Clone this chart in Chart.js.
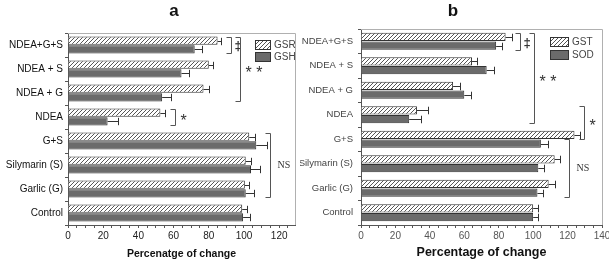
<!DOCTYPE html>
<html><head><meta charset="utf-8">
<script src="https://cdn.jsdelivr.net/npm/chart.js@4/dist/chart.umd.min.js"></script>
<style>
html,body{margin:0;padding:0;background:#fff;overflow:hidden}
#wrap{position:relative;width:609px;height:265px}
canvas{position:absolute;top:0}
</style></head><body>
<div id="wrap">
<canvas id="ca" width="300" height="265" style="left:0"></canvas>
<canvas id="cb" width="309" height="265" style="left:300px"></canvas>
</div>
<script>
// ---- data ----
const categories = ['NDEA+G+S','NDEA + S','NDEA + G','NDEA','G+S','Silymarin (S)','Garlic (G)','Control'];
const gsr    = [85, 80, 77, 52.5, 103, 101, 100.5, 99];
const gsrErr = [2, 2.5, 3, 2.5, 3, 3, 2.5, 3];
const gsh    = [72, 64.5, 53.5, 22.5, 107, 104, 101, 99.5];
const gshErr = [4, 4.5, 5, 6, 6, 5, 4.5, 4];
const gst    = [84, 64.5, 53.5, 32.5, 124, 112.5, 109, 100];
const gstErr = [4, 3, 4, 6.5, 3, 3, 3.5, 3];
const sod    = [78.5, 73, 60, 28, 104.5, 103, 102.5, 100];
const sodErr = [3.5, 4, 4, 7, 4, 3.5, 3.5, 3];
const xTicksA = [0,20,40,60,80,100,120];
const xTicksB = [0,20,40,60,80,100,120,140];
// significance brackets: [category, dataset] ends, value on x axis, mark
const bracketsA = [
  {from:[0,0], to:[0,1], at:92.5, mark:'‡'},
  {from:[0,0], to:[2,1], at:98, mark:'* *'},
  {from:[3,0], to:[3,1], at:61, mark:'*'},
  {from:[4,0], to:[6,1], at:115, mark:'NS'}
];
const bracketsB = [
  {from:[0,0], to:[0,1], at:92.5, mark:'‡'},
  {from:[0,0], to:[3,1], at:100.5, mark:'* *'},
  {from:[3,0], to:[4,0], at:129.5, mark:'*'},
  {from:[4,1], to:[6,1], at:121, mark:'NS'}
];

function hatch(){
  const c=document.createElement('canvas'); c.width=c.height=4;
  const g=c.getContext('2d');
  g.fillStyle='#fff'; g.fillRect(0,0,4,4);
  g.strokeStyle='#555'; g.lineWidth=1;
  g.beginPath();
  g.moveTo(0,4); g.lineTo(4,0);
  g.moveTo(-1,1); g.lineTo(1,-1);
  g.moveTo(3,5); g.lineTo(5,3);
  g.stroke();
  return g.createPattern(c,'repeat');
}

function makeChart(id, cfg){
  const ctx=document.getElementById(id).getContext('2d');
  const pat=hatch();
  const decor={
    id:'decor',
    afterDatasetsDraw(chart){
      const c=chart.ctx, xs=chart.scales.x, a=chart.chartArea;
      c.save();
      // error bars
      c.strokeStyle='#333'; c.lineWidth=1;
      chart.data.datasets.forEach((ds,di)=>{
        const meta=chart.getDatasetMeta(di);
        meta.data.forEach((bar,i)=>{
          const p=bar.getProps(['x','y','height'],true);
          const xe=Math.round(xs.getPixelForValue(ds.data[i]+ds.err[i]))+0.5;
          const y=Math.round(p.y)+0.5, h=p.height*0.45;
          c.beginPath();
          c.moveTo(p.x,y); c.lineTo(xe,y);
          c.moveTo(xe,y-h); c.lineTo(xe,y+h);
          c.stroke();
        });
      });
      // frame top/right
      c.strokeStyle='#b0b0b0';
      c.beginPath();
      c.moveTo(a.left,a.top+0.5); c.lineTo(a.right+0.5,a.top+0.5); c.lineTo(a.right+0.5,a.bottom);
      c.stroke();
      // brackets
      c.strokeStyle='#555'; c.fillStyle='#333';
      cfg.brackets.forEach(b=>{
        const b1=chart.getDatasetMeta(b.from[1]).data[b.from[0]].getProps(['y','height'],true);
        const b2=chart.getDatasetMeta(b.to[1]).data[b.to[0]].getProps(['y','height'],true);
        const x=Math.round(xs.getPixelForValue(b.at))+0.5;
        const y1=Math.round(b1.y-b1.height/2)+0.5, y2=Math.round(b2.y+b2.height/2)+0.5;
        c.beginPath();
        c.moveTo(x-5,y1); c.lineTo(x,y1); c.lineTo(x,y2); c.lineTo(x-5,y2);
        c.stroke();
        const ym=(y1+y2)/2;
        c.textBaseline='middle'; c.textAlign='left';
        if(b.mark==='NS'){ c.font='10px "Liberation Serif"'; c.fillText('NS',x+7,ym); }
        else if(b.mark==='‡'){ c.font='bold 13px "Liberation Sans"'; c.fillText('‡',x+3,ym+1); }
        else { c.font='16px "Liberation Sans"'; c.fillText(b.mark,x+5,ym+4); }
      });
      // legend
      const L=cfg.legend;
      chart.data.datasets.forEach((ds,di)=>{
        const lx=a.right-L.dx, ly=a.top+L.dy+di*L.step;
        c.fillStyle=ds.backgroundColor; c.fillRect(lx,ly,L.w,L.h);
        c.strokeStyle='#333'; c.strokeRect(lx+0.5,ly+0.5,L.w,L.h);
        c.fillStyle='#444'; c.font='10px "Liberation Sans"'; c.textAlign='left'; c.textBaseline='middle';
        c.fillText(ds.label,lx+L.w+4,ly+L.h/2+1);
      });
      // title & axis title
      c.fillStyle='#111'; c.textAlign='center'; c.textBaseline='middle';
      c.font='bold 17px "Liberation Sans"';
      c.fillText(cfg.title, cfg.titleX, 11);
      c.font=cfg.axisFont;
      c.fillText(cfg.axisTitle,(a.left+a.right)/2,cfg.axisTitleY);
      c.restore();
    }
  };
  return new Chart(ctx,{
    type:'bar',
    data:{labels:categories,datasets:[
      {label:cfg.names[0],data:cfg.d1,err:cfg.e1,backgroundColor:pat,borderColor:'#333',borderWidth:1,borderSkipped:'start'},
      {label:cfg.names[1],data:cfg.d2,err:cfg.e2,backgroundColor:'#6b6b6b',borderColor:'#333',borderWidth:1,borderSkipped:'start'}
    ]},
    options:{
      indexAxis:'y',responsive:false,animation:false,
      categoryPercentage:0.72,barPercentage:0.95,
      layout:{padding:{top:cfg.top,right:cfg.right,left:0,bottom:0}},
      plugins:{legend:{display:false},tooltip:{enabled:false}},
      scales:{
        x:{min:0,max:cfg.max,
          afterFit(s){s.height=40;s.paddingLeft=0;s.paddingRight=0;},
          border:{color:'#555'},
          grid:{display:true,drawOnChartArea:false,tickLength:3,color:'#555'},
          ticks:{stepSize:5,autoSkip:false,maxRotation:0,includeBounds:false,padding:2,
            color:cfg.tickColor,font:{family:'Liberation Sans',size:10},
            callback:v=>cfg.xt.includes(v)?String(v):''}
        },
        y:{
          afterFit(s){s.width=cfg.yw;s.paddingTop=0;s.paddingBottom=0;},
          border:{color:'#555'},
          grid:{display:true,drawOnChartArea:false,tickLength:3,color:'#555'},
          ticks:{padding:cfg.ypad,autoSkip:false,color:cfg.labelColor,font:{family:'Liberation Sans',size:cfg.yfs}}
        }
      }
    },
    plugins:[decor]
  });
}

makeChart('ca',{names:['GSR','GSH'],d1:gsr,e1:gsrErr,d2:gsh,e2:gshErr,xt:xTicksA,max:129,
  top:33,right:5,yw:68,ypad:2,yfs:10,tickColor:'#222',labelColor:'#111',
  brackets:bracketsA,legend:{dx:40,dy:7,step:12,w:15,h:9},
  title:'a',titleX:174,axisTitle:'Percenatge of change',axisTitleY:254,axisFont:'bold 10.5px "Liberation Sans"'});
makeChart('cb',{names:['GST','SOD'],d1:gst,e1:gstErr,d2:sod,e2:sodErr,xt:xTicksB,max:140,
  top:29,right:7,yw:61,ypad:5,yfs:9.5,tickColor:'#555',labelColor:'#444',
  brackets:bracketsB,legend:{dx:52,dy:8,step:13,w:18,h:9},
  title:'b',titleX:153,axisTitle:'Percentage of change',axisTitleY:253,axisFont:'bold 12.5px "Liberation Sans"'});
</script>
</body></html>
